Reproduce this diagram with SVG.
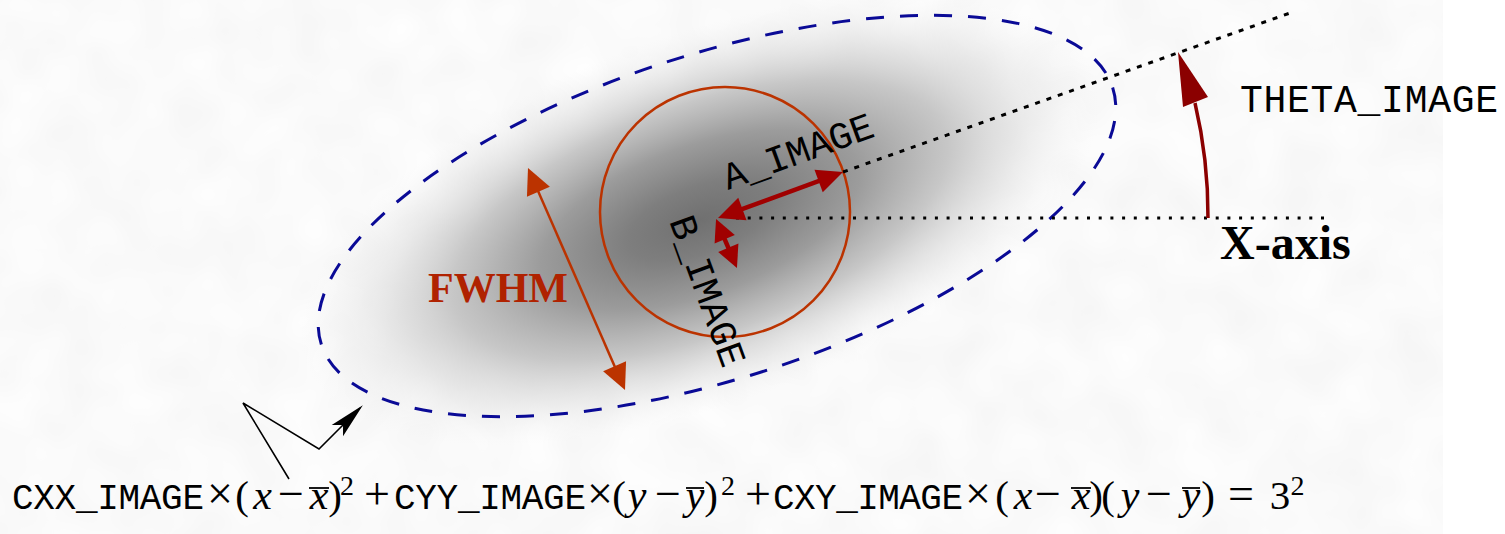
<svg xmlns="http://www.w3.org/2000/svg" width="1505" height="534" viewBox="0 0 1505 534">
<style>
.mono{font-family:"Liberation Mono","DejaVu Sans Mono",monospace;font-size:38px;fill:#000}
.eqm{font-family:"Liberation Mono","DejaVu Sans Mono",monospace;font-size:36px;fill:#000}
.math{font-family:"Liberation Serif","DejaVu Serif",serif;font-size:41px;fill:#000;text-anchor:middle}
.op{font-size:46px}
.it{font-style:italic;font-size:42px}
.sup{font-size:28px}
.bold{font-family:"Liberation Serif","DejaVu Serif",serif;font-weight:bold}
.bar{stroke:#000;stroke-width:1.8}
.dash-ell{fill:none;stroke:#0a0a96;stroke-width:3;stroke-dasharray:18 16}
.red{stroke:#a00000;stroke-width:4.5;fill:none}
.orange{stroke:#bb3300;stroke-width:2.5;fill:none}
.dot-h{stroke:#000;stroke-width:3;stroke-dasharray:3 8.7;fill:none}
.dot-s{stroke:#000;stroke-width:3;stroke-dasharray:5 7;fill:none}
</style>
<defs>
<filter id="noise" x="0" y="0" width="100%" height="100%">
<feTurbulence type="fractalNoise" baseFrequency="0.018" numOctaves="2" seed="7"/>
<feColorMatrix type="matrix" values="0.1 0 0 0 0.905 0.1 0 0 0 0.905 0.1 0 0 0 0.905 0 0 0 0 1"/>
</filter>
<radialGradient id="blob" cx="0.5" cy="0.5" r="0.5">
<stop offset="0" stop-color="#707070"/>
<stop offset="0.18" stop-color="#7e7e7e"/>
<stop offset="0.4" stop-color="#9c9c9c"/>
<stop offset="0.62" stop-color="#bebebe" stop-opacity="0.85"/>
<stop offset="0.82" stop-color="#dadada" stop-opacity="0.45"/>
<stop offset="1" stop-color="#eee" stop-opacity="0"/>
</radialGradient>
<marker id="hRed" viewBox="-28 -13 29 26" refX="-8" refY="0" markerWidth="29" markerHeight="26" markerUnits="userSpaceOnUse" orient="auto-start-reverse">
<path d="M0,0 L-26,-12 L-26,12 Z" fill="#a00000"/>
</marker>
<marker id="hRedS" viewBox="-24 -12 25 24" refX="-8" refY="0" markerWidth="25" markerHeight="24" markerUnits="userSpaceOnUse" orient="auto-start-reverse">
<path d="M0,0 L-22,-11 L-22,11 Z" fill="#a00000"/>
</marker>
<marker id="hOr" viewBox="-28 -14 29 28" refX="-6" refY="0" markerWidth="29" markerHeight="28" markerUnits="userSpaceOnUse" orient="auto-start-reverse">
<path d="M0,0 L-26,-12.5 L-26,12.5 Z" fill="#bb3300"/>
</marker>
<marker id="hBlk" viewBox="-38 -10 39 20" refX="-4" refY="0" markerWidth="39" markerHeight="20" markerUnits="userSpaceOnUse" orient="auto">
<path d="M0,0 L-36,-8 L-28,0 L-36,8 Z" fill="#000"/>
</marker>
</defs>

<g id="background">
<rect x="0" y="0" width="1505" height="534" fill="#fff"/>
<rect x="0" y="0" width="1443" height="534" filter="url(#noise)"/>
</g>

<g id="galaxy">
<ellipse cx="700" cy="220" rx="420" ry="185" fill="url(#blob)" transform="rotate(-20 700 220)"/>
</g>

<g id="isophote-ellipse">
<ellipse cx="717" cy="216" rx="416" ry="162" class="dash-ell" transform="rotate(-18 717 216)"/>
</g>

<g id="fwhm-circle">
<circle cx="725" cy="212" r="125" class="orange"/>
</g>

<g id="connectors">
<line x1="843" y1="172" x2="1290" y2="13" class="dot-s"/>
<line x1="736" y1="218" x2="1324" y2="218" class="dot-h"/>
<line x1="725.5" y1="215.2" x2="835.5" y2="174.8" class="red" marker-start="url(#hRed)" marker-end="url(#hRed)"/>
<line x1="719.2" y1="226.4" x2="733.8" y2="260.6" class="red" marker-start="url(#hRedS)" marker-end="url(#hRedS)"/>
<line x1="530.4" y1="173.5" x2="622.6" y2="384.5" class="orange" marker-start="url(#hOr)" marker-end="url(#hOr)"/>
<path d="M1208,218 A491,491 0 0 0 1195,103" fill="none" stroke="#8b0000" stroke-width="3.5"/>
<polygon points="1178,52 1183,107 1208,97" fill="#8b0000"/>
<polyline points="289,479 243,403 319,449 360,408" fill="none" stroke="#000" stroke-width="1.6" marker-end="url(#hBlk)"/>
</g>

<g id="label-a-image">
<text class="mono" x="728" y="190" textLength="158" transform="rotate(-20 728 190)">A_IMAGE</text>
</g>
<g id="label-b-image">
<text class="mono" x="669" y="221" textLength="158" transform="rotate(70 669 221)">B_IMAGE</text>
</g>
<g id="label-theta">
<text class="mono" x="1240" y="112" textLength="258">THETA_IMAGE</text>
</g>
<g id="label-xaxis">
<text class="bold" x="1220" y="259" font-size="48" fill="#000">X-axis</text>
</g>
<g id="label-fwhm">
<text class="bold" x="428" y="302" font-size="42" fill="#b02200">FWHM</text>
</g>

<g id="equation">
<text class="eqm" x="12" y="509" textLength="192">CXX_IMAGE</text>
<text class="math op" x="220" y="509">×</text>
<text class="math" x="242" y="509">(</text>
<text class="math it" x="262.5" y="509">x</text>
<text class="math op" x="291" y="509">−</text>
<text class="math it" x="319" y="509">x</text>
<line class="bar" x1="309" y1="488" x2="329" y2="488"/>
<text class="math" x="335" y="509">)</text>
<text class="math sup" x="347" y="495">2</text>
<text class="math op" x="377" y="509">+</text>
<text class="eqm" x="394" y="509" textLength="192">CYY_IMAGE</text>
<text class="math op" x="600" y="509">×</text>
<text class="math" x="619" y="509">(</text>
<text class="math it" x="637" y="509">y</text>
<text class="math op" x="668" y="509">−</text>
<text class="math it" x="695" y="509">y</text>
<line class="bar" x1="686" y1="488" x2="704" y2="488"/>
<text class="math" x="711" y="509">)</text>
<text class="math sup" x="728" y="495">2</text>
<text class="math op" x="758" y="509">+</text>
<text class="eqm" x="773" y="509" textLength="190">CXY_IMAGE</text>
<text class="math op" x="978" y="509">×</text>
<text class="math" x="1002" y="509">(</text>
<text class="math it" x="1023" y="509">x</text>
<text class="math op" x="1048" y="509">−</text>
<text class="math it" x="1081" y="509">x</text>
<line class="bar" x1="1071" y1="488" x2="1091" y2="488"/>
<text class="math" x="1096" y="509">)</text>
<text class="math" x="1108" y="509">(</text>
<text class="math it" x="1130" y="509">y</text>
<text class="math op" x="1159" y="509">−</text>
<text class="math it" x="1191" y="509">y</text>
<line class="bar" x1="1182" y1="488" x2="1200" y2="488"/>
<text class="math" x="1208" y="509">)</text>
<text class="math op" x="1241" y="509">=</text>
<text class="math" x="1280" y="509">3</text>
<text class="math sup" x="1297.5" y="495">2</text>
</g>
</svg>
